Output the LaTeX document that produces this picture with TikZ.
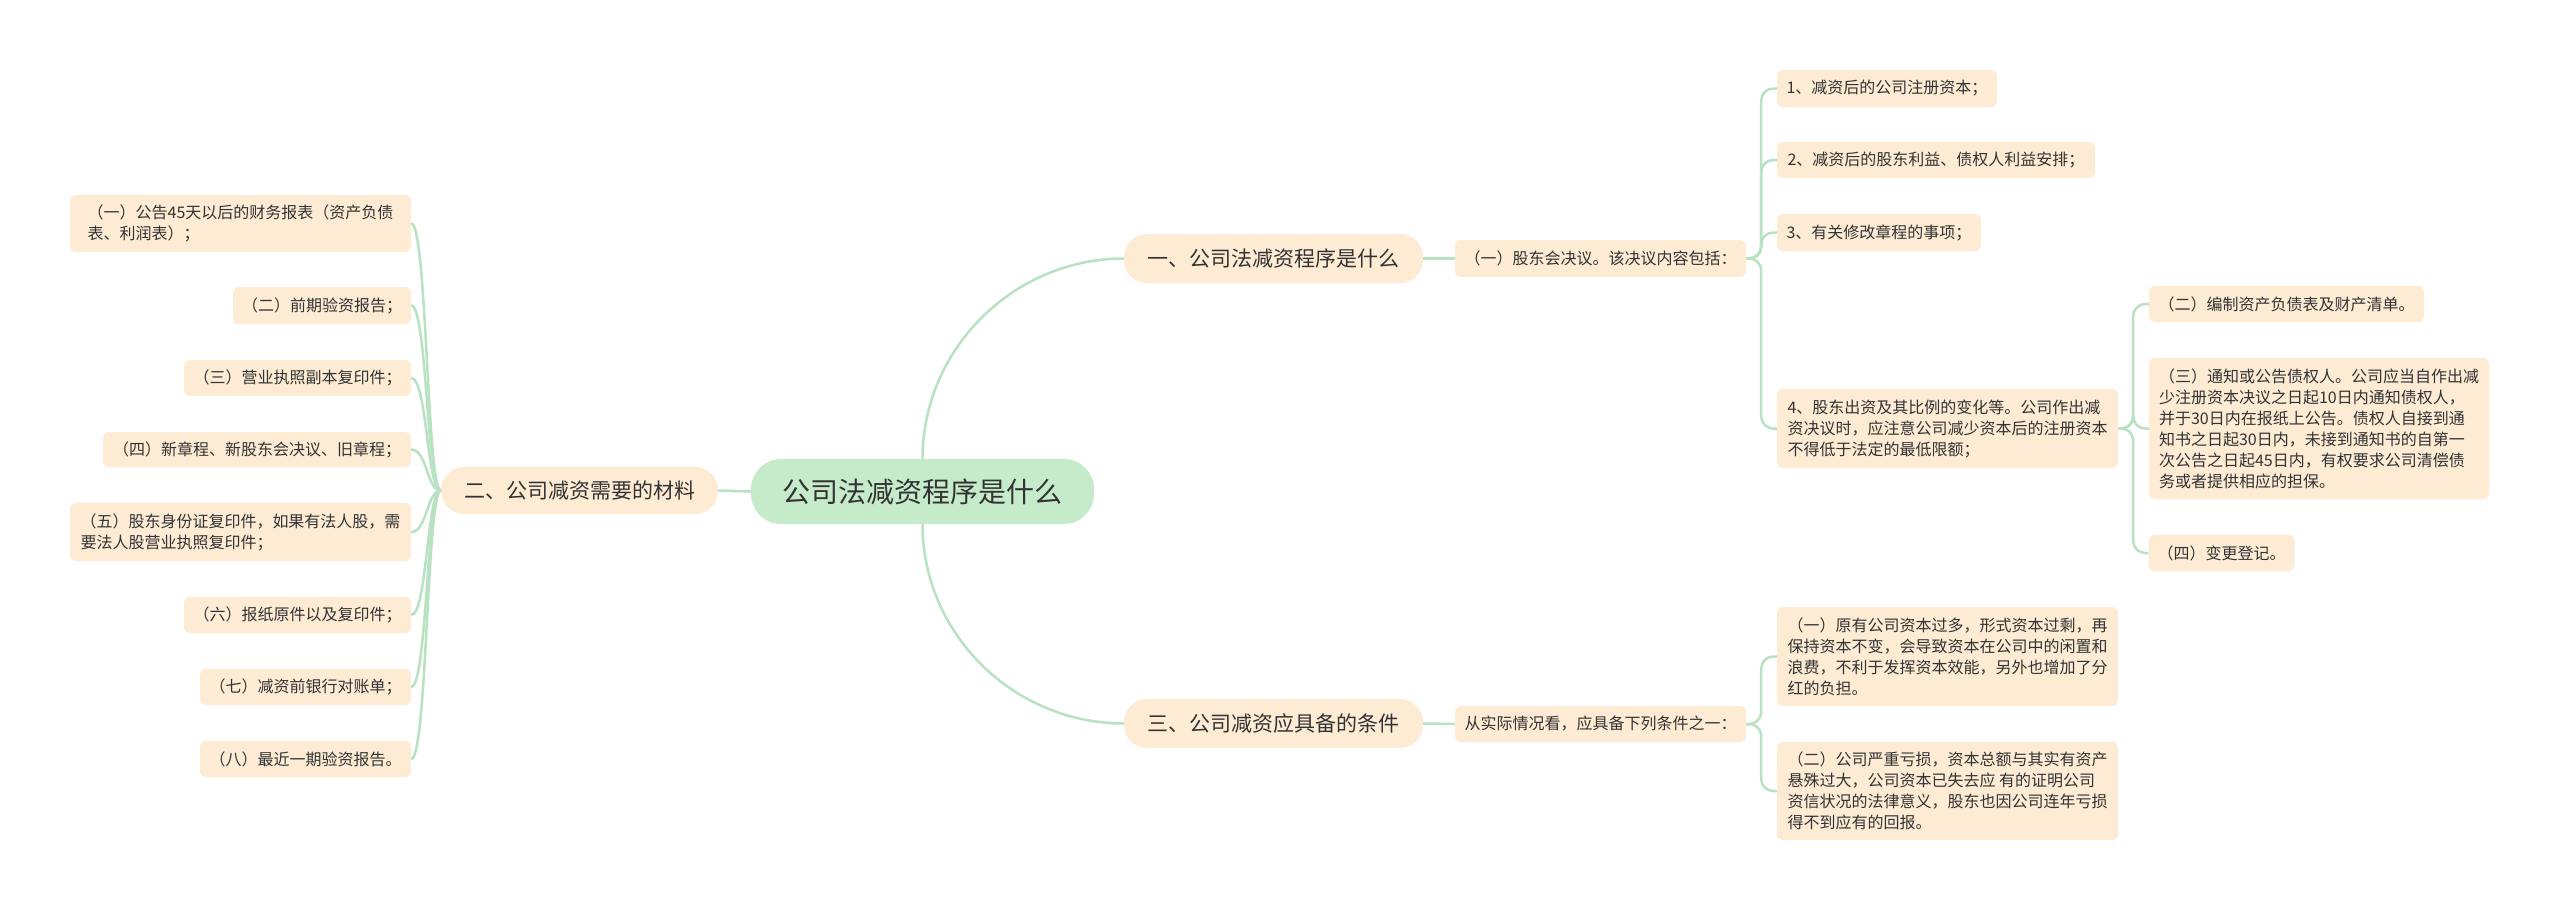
\documentclass[tikz,border=0pt]{standalone}
\usepackage{fontspec}
\setmainfont{Noto Sans CJK SC}
\definecolor{peach}{HTML}{FDEBD4}
\definecolor{mint}{HTML}{C6EBCB}
\definecolor{linec}{HTML}{B8E2C2}
\definecolor{txt}{HTML}{333333}
\tikzset{
  box/.style={fill=peach, rounded corners=6pt, align=left, text=txt,
    font=\fontsize{16}{21}\selectfont, inner xsep=9pt, inner ysep=0pt},
  lvl/.style={fill=peach, rounded corners=23pt, text=txt,
    font=\fontsize{21}{25}\selectfont, inner sep=0pt},
  root/.style={fill=mint, rounded corners=30pt, text=txt,
    font=\fontsize{28}{32}\selectfont, inner sep=0pt},
  conn/.style={draw=linec, line width=2.5pt},
  tconn/.style={conn, rounded corners=12pt},
}
\begin{document}
\begin{tikzpicture}[x=1pt,y=-1pt]
\fill[white] (0,0) rectangle (2560,911);
\useasboundingbox (0,0) rectangle (2560,911);

% root and first level
\node[root, minimum width=343pt, minimum height=65pt] (c) at (922.5,491.5) {公司法减资程序是什么};
\node[lvl, minimum width=277pt, minimum height=47pt] (n2) at (579.5,490.5) {二、公司减资需要的材料};
\node[lvl, minimum width=299pt, minimum height=49pt] (n1) at (1273.5,258.5) {一、公司法减资程序是什么};
\node[lvl, minimum width=299pt, minimum height=49pt] (n3) at (1273.5,723.5) {三、公司减资应具备的条件};

% left branch children
\node[box, minimum width=341pt, minimum height=57pt] (L1) at (240.5,223.5) {（一）公告45天以后的财务报表（资产负债\\表、利润表）；};
\node[box, minimum width=178pt, minimum height=37pt] (L2) at (322,305.5) {（二）前期验资报告；};
\node[box, minimum width=227pt, minimum height=36pt] (L3) at (297.5,378) {（三）营业执照副本复印件；};
\node[box, minimum width=308pt, minimum height=35pt] (L4) at (257,449.5) {（四）新章程、新股东会决议、旧章程；};
\node[box, minimum width=341pt, minimum height=58pt] (L5) at (240.5,532) {（五）股东身份证复印件，如果有法人股，需\\要法人股营业执照复印件；};
\node[box, minimum width=227pt, minimum height=36pt] (L6) at (297.5,615) {（六）报纸原件以及复印件；};
\node[box, minimum width=211pt, minimum height=36pt] (L7) at (305.5,687) {（七）减资前银行对账单；};
\node[box, minimum width=211pt, minimum height=36pt] (L8) at (305.5,759) {（八）最近一期验资报告。};

% right upper branch
\node[box, minimum width=291pt, minimum height=37pt] (a) at (1600.5,258.5) {（一）股东会决议。该决议内容包括：};
\node[box, minimum width=220pt, minimum height=37pt] (a1) at (1887,88.5) {1、减资后的公司注册资本；};
\node[box, minimum width=318pt, minimum height=36pt] (a2) at (1936,160) {2、减资后的股东利益、债权人利益安排；};
\node[box, minimum width=204pt, minimum height=37pt] (a3) at (1879,232.5) {3、有关修改章程的事项；};
\node[box, minimum width=341pt, minimum height=79pt] (a4) at (1947.5,428.5) {4、股东出资及其比例的变化等。公司作出减\\资决议时，应注意公司减少资本后的注册资本\\不得低于法定的最低限额；};
\node[box, minimum width=275pt, minimum height=36pt] (b2) at (2286.5,304) {（二）编制资产负债表及财产清单。};
\node[box, minimum width=340pt, minimum height=141pt] (b3) at (2319,428.5) {（三）通知或公告债权人。公司应当自作出减\\少注册资本决议之日起10日内通知债权人，\\并于30日内在报纸上公告。债权人自接到通\\知书之日起30日内，未接到通知书的自第一\\次公告之日起45日内，有权要求公司清偿债\\务或者提供相应的担保。};
\node[box, minimum width=145pt, minimum height=36pt] (b4) at (2221.5,553) {（四）变更登记。};

% right lower branch
\node[box, minimum width=291pt, minimum height=36pt] (d) at (1600.5,724) {从实际情况看，应具备下列条件之一：};
\node[box, minimum width=341pt, minimum height=99pt] (d1) at (1947.5,656.5) {（一）原有公司资本过多，形式资本过剩，再\\保持资本不变，会导致资本在公司中的闲置和\\浪费，不利于发挥资本效能，另外也增加了分\\红的负担。};
\node[box, minimum width=341pt, minimum height=98pt] (d2) at (1947.5,791) {（二）公司严重亏损，资本总额与其实有资产\\悬殊过大，公司资本已失去应 有的证明公司\\资信状况的法律意义，股东也因公司连年亏损\\得不到应有的回报。};

% connectors
\draw[conn] (c.west) -- (n2.east);
\draw[conn] (c.north) .. controls ([yshift=110pt]c.north) and ([xshift=-110pt]n1.west) .. (n1.west);
\draw[conn] (c.south) .. controls ([yshift=-110pt]c.south) and ([xshift=-110pt]n3.west) .. (n3.west);
\foreach \k in {L1,L2,L3,L4,L5,L6,L7,L8}
  \draw[conn] (n2.west) .. controls ([xshift=-14pt]n2.west) and ([xshift=16pt]\k.east) .. (\k.east);
\draw[conn] (n1.east) -- (a.west);
\draw[conn] (n3.east) -- (d.west);
\foreach \k in {a1,a2,a3,a4}
  \draw[tconn] (a.east) -- ++(15,0) |- (\k.west);
\foreach \k in {b2,b3,b4}
  \draw[tconn] (a4.east) -- ++(15,0) |- (\k.west);
\foreach \k in {d1,d2}
  \draw[tconn] (d.east) -- ++(15,0) |- (\k.west);
\end{tikzpicture}
\end{document}
